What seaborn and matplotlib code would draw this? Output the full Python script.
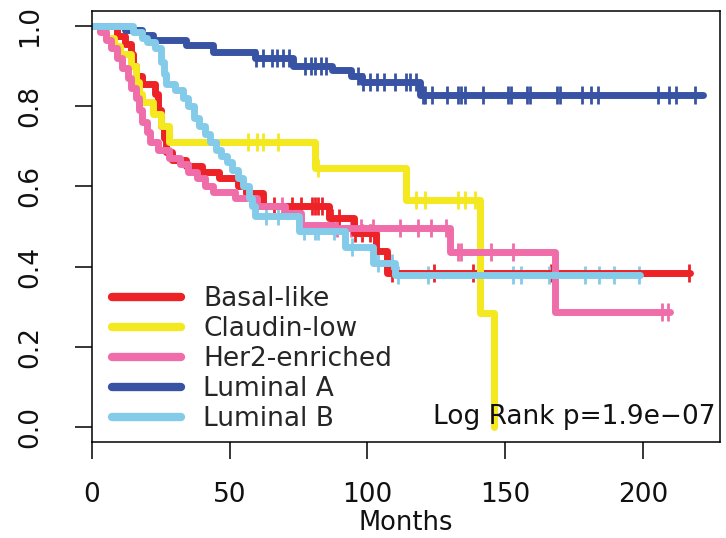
import numpy as np
import pandas as pd
import matplotlib
matplotlib.use("Agg")
import matplotlib.pyplot as plt
import seaborn as sns
from matplotlib.lines import Line2D

# ---------------- data ----------------
groups = ["Basal-like", "Claudin-low", "Her2-enriched", "Luminal A", "Luminal B"]
colors = ["#EC2227", "#F4E81E", "#EF6DA9", "#3953A4", "#84CBEA"]

basal_t = [9, 12, 14, 15, 16, 18, 23, 24, 25, 26, 27, 29, 34, 40, 46, 53, 56, 62, 86, 95, 103, 107]
basal_s = [0.975, 0.955, 0.93, 0.90, 0.875, 0.855, 0.83, 0.79, 0.75, 0.72, 0.685, 0.665, 0.65,
           0.636, 0.62, 0.60, 0.583, 0.55, 0.52, 0.484, 0.44, 0.384]
basal_end = 217
basal_cens = [66, 72.7, 76, 80, 81, 82, 83.6, 87, 89.5, 95.6, 98, 101, 109, 124, 138.5, 166.5, 216.7]

claudin_t = [5, 8, 10, 14, 16, 17, 18, 22, 25, 28, 81, 114, 141, 146]
claudin_s = [0.97, 0.95, 0.93, 0.90, 0.86, 0.83, 0.81, 0.78, 0.75, 0.711, 0.645, 0.566, 0.284, 0.0]
claudin_end = 146
claudin_cens = [56.7, 60, 62, 67.6, 82, 117.5, 121, 132.7, 135.6, 139]

her2_t = [3, 5, 7, 9, 11, 13, 14, 16, 17, 18, 20, 21, 24, 28, 32, 35, 38, 41, 44, 52, 60, 70, 76, 88, 130, 168]
her2_s = [0.985, 0.965, 0.945, 0.92, 0.895, 0.87, 0.845, 0.82, 0.79, 0.76, 0.735, 0.71, 0.69, 0.67,
          0.655, 0.635, 0.62, 0.60, 0.586, 0.57, 0.55, 0.534, 0.504, 0.496, 0.437, 0.287]
her2_end = 210
her2_cens = [69, 89, 94, 97.5, 102, 112, 118.5, 123, 128.4, 132.7, 133.8, 144.7, 153, 207, 209]

luma_t = [12, 18, 22, 34, 44, 59, 73, 87, 94, 98, 119]
luma_s = [0.99, 0.978, 0.965, 0.953, 0.935, 0.92, 0.90, 0.89, 0.875, 0.86, 0.828]
luma_end = 222
luma_cens = [59.5, 62, 65.5, 67, 69.5, 71.5, 77.5, 79.5, 81, 83, 85, 96.7, 98.5, 101, 103.6, 106,
             110, 114, 115.6, 117.5, 120, 121, 123.6, 129, 132.7, 133.8, 135.6, 141.8, 151, 152,
             158, 159, 169, 170, 178, 181, 183.6, 205.5, 209.5, 212, 219]

lumb_t = [15, 18, 20, 23, 25, 26, 27, 30, 33, 35, 37, 39, 41, 43, 45, 47, 49, 51, 53, 55, 57, 58, 59,
          75, 92, 102, 110]
lumb_s = [0.985, 0.97, 0.96, 0.945, 0.91, 0.88, 0.855, 0.84, 0.82, 0.80, 0.77, 0.75, 0.73, 0.71,
          0.69, 0.675, 0.66, 0.64, 0.62, 0.60, 0.57, 0.55, 0.525, 0.49, 0.45, 0.41, 0.38]
lumb_end = 199
lumb_cens = [63, 67.6, 77, 81, 82, 88, 94.5, 104, 109, 111, 122, 153, 155.6, 166, 179, 184, 189.5, 198.5]

x_ticks = [0, 50, 100, 150, 200]
y_ticks = [0.0, 0.2, 0.4, 0.6, 0.8, 1.0]
y_tick_labels = ["0.0", "0.2", "0.4", "0.6", "0.8", "1.0"]
x_label = "Months"
p_text = "Log Rank p=1.9e\u221207"

series = [
    (groups[0], basal_t, basal_s, basal_end, basal_cens),
    (groups[1], claudin_t, claudin_s, claudin_end, claudin_cens),
    (groups[2], her2_t, her2_s, her2_end, her2_cens),
    (groups[3], luma_t, luma_s, luma_end, luma_cens),
    (groups[4], lumb_t, lumb_s, lumb_end, lumb_cens),
]

rows, crow = [], []
for name, t, s, end, cens in series:
    tt = [0] + t + [end]
    ss = [1.0] + s + [s[-1]]
    for a, b in zip(tt, ss):
        rows.append((name, a, b))
    for ct in cens:
        idx = np.searchsorted(t, ct, side="right")
        sv = 1.0 if idx == 0 else s[idx - 1]
        crow.append((name, ct, sv))
df = pd.DataFrame(rows, columns=["group", "months", "surv"])
cdf = pd.DataFrame(crow, columns=["group", "months", "surv"])
pal = dict(zip(groups, colors))

# ---------------- plot ----------------
sns.set_theme(style="white")
plt.rcParams["font.family"] = ["DejaVu Sans"]

fig = plt.figure(figsize=(7.26, 5.38), dpi=100)
ax = fig.add_axes([92 / 726, 1 - 442 / 538, (720 - 92) / 726, (442 - 11) / 538])

for g in groups:
    sns.lineplot(data=df[df.group == g], x="months", y="surv", color=pal[g],
                 drawstyle="steps-post", lw=5, estimator=None, sort=False,
                 ax=ax, legend=False)
    sns.scatterplot(data=cdf[cdf.group == g], x="months", y="surv", color=pal[g],
                    marker="|", s=170, linewidth=2, ax=ax, legend=False)

ax.set_xlim(0, 228)
ax.set_ylim(-0.037, 1.037)
ax.set_xticks(x_ticks)
ax.set_xticklabels([str(v) for v in x_ticks])
ax.set_yticks(y_ticks)
ax.set_yticklabels(y_tick_labels, rotation=90, va="center")
ax.tick_params(axis="both", which="major", bottom=True, left=True, direction="out",
               length=12, width=1.1, color="black", labelsize=19, labelcolor="#111111")
ax.tick_params(axis="x", pad=17)
ax.tick_params(axis="y", pad=23)
ax.set_xlabel(x_label, fontsize=18.5, labelpad=1, color="#111111")
ax.set_ylabel("")
for sp in ax.spines.values():
    sp.set_visible(True)
    sp.set_color("black")
    sp.set_linewidth(1.1)

handles = [Line2D([0], [0], color=c, lw=6, solid_capstyle="round") for c in colors]
ax.legend(handles, groups, loc="upper left", bbox_to_anchor=(0.032, 0.361),
          frameon=False, fontsize=19, handlelength=2.6, handletextpad=0.85,
          labelspacing=0.15, borderpad=0, borderaxespad=0)

ax.text(226.5, 0.025, p_text, ha="right", va="center", fontsize=19, color="#111111")

fig.savefig("out.png", dpi=100)
